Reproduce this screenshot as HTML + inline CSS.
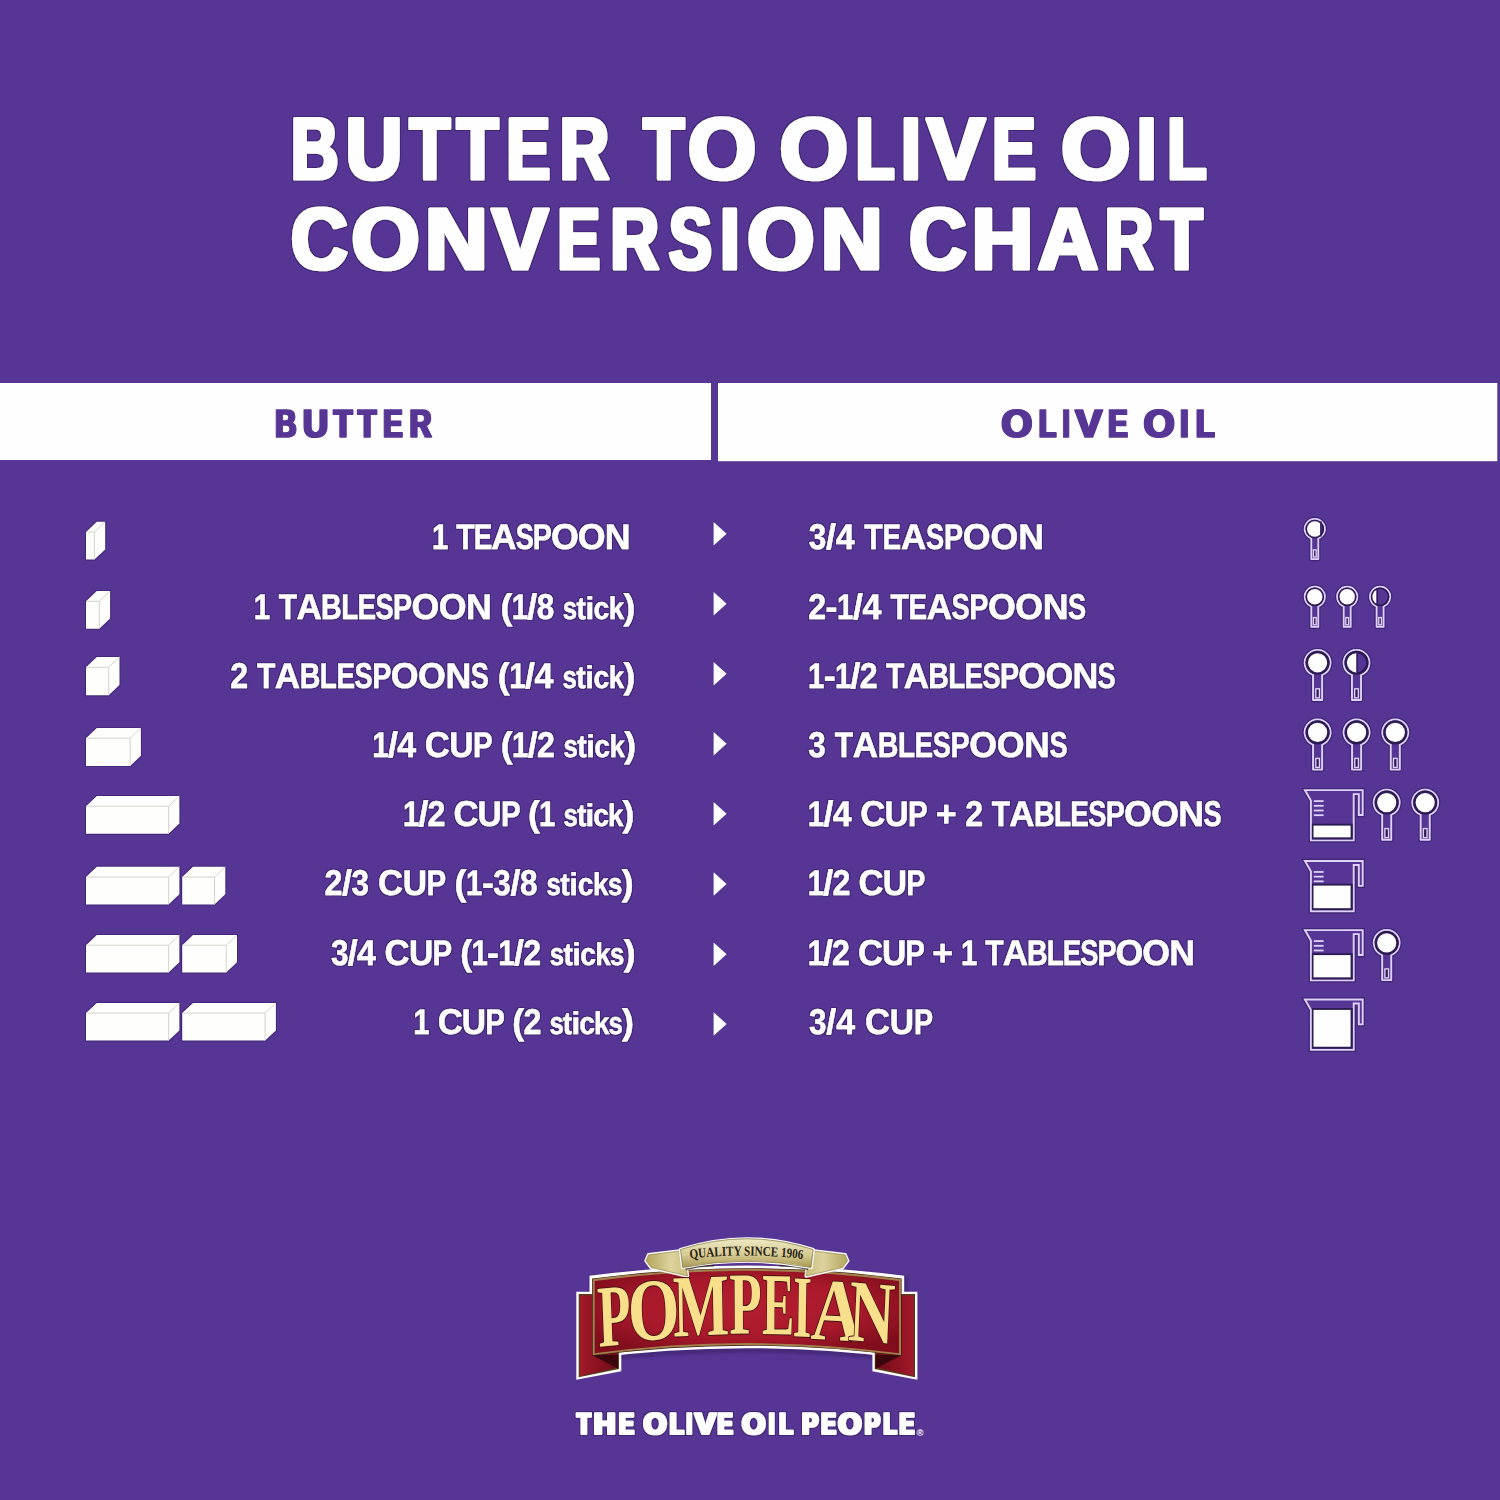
<!DOCTYPE html>
<html><head><meta charset="utf-8"><title>Butter to Olive Oil Conversion Chart</title>
<style>html,body{margin:0;padding:0;background:#573594;}svg{display:block;}</style></head>
<body><svg width="1500" height="1500" viewBox="0 0 1500 1500">
<defs><filter id="hdil45" x="-3%" y="-20%" width="106%" height="140%"><feMorphology in="SourceGraphic" operator="dilate" radius="0.45 0" result="d"/><feMorphology in="d" operator="dilate" radius="1.1" result="h"/><feFlood flood-color="#2e1b58" flood-opacity="0.60"/><feComposite in2="h" operator="in" result="hc"/><feGaussianBlur in="hc" stdDeviation="0.5" result="hb"/><feMerge><feMergeNode in="hb"/><feMergeNode in="d"/></feMerge></filter><filter id="hdil50" x="-3%" y="-20%" width="106%" height="140%"><feMorphology in="SourceGraphic" operator="dilate" radius="0.50 0" result="d"/><feMorphology in="d" operator="dilate" radius="1.1" result="h"/><feFlood flood-color="#2e1b58" flood-opacity="0.60"/><feComposite in2="h" operator="in" result="hc"/><feGaussianBlur in="hc" stdDeviation="0.5" result="hb"/><feMerge><feMergeNode in="hb"/><feMergeNode in="d"/></feMerge></filter><filter id="hdil60" x="-5%" y="-10%" width="110%" height="120%"><feMorphology operator="dilate" radius="0.60 0"/></filter><filter id="hdil100" x="-3%" y="-20%" width="106%" height="140%"><feMorphology in="SourceGraphic" operator="dilate" radius="1.00 0" result="d"/><feMorphology in="d" operator="dilate" radius="1.1" result="h"/><feFlood flood-color="#2e1b58" flood-opacity="0.60"/><feComposite in2="h" operator="in" result="hc"/><feGaussianBlur in="hc" stdDeviation="0.5" result="hb"/><feMerge><feMergeNode in="hb"/><feMergeNode in="d"/></feMerge></filter></defs>
<rect x="0" y="0" width="1500" height="1500" fill="#573594"/>
<rect x="0" y="383" width="711" height="77" fill="#fefefe"/>
<rect x="718" y="383" width="779.3" height="78.2" fill="#fefefe"/>
<text id="t1" y="179.30" font-size="87.79" font-family="Liberation Sans, sans-serif" font-weight="bold" fill="#fefefe" stroke="#fefefe" stroke-width="3.00" stroke-linejoin="round" filter="url(#hdil100)" text-rendering="geometricPrecision"><tspan x="291.11" textLength="47.37" lengthAdjust="spacingAndGlyphs">B</tspan><tspan x="345.80" textLength="56.47" lengthAdjust="spacingAndGlyphs">U</tspan><tspan x="409.76" textLength="40.14" lengthAdjust="spacingAndGlyphs">T</tspan><tspan x="457.04" textLength="41.18" lengthAdjust="spacingAndGlyphs">T</tspan><tspan x="506.42" textLength="43.63" lengthAdjust="spacingAndGlyphs">E</tspan><tspan x="559.64" textLength="49.26" lengthAdjust="spacingAndGlyphs">R</tspan> <tspan x="643.45" textLength="40.56" lengthAdjust="spacingAndGlyphs">T</tspan><tspan x="688.11" textLength="68.06" lengthAdjust="spacingAndGlyphs">O</tspan> <tspan x="779.71" textLength="68.18" lengthAdjust="spacingAndGlyphs">O</tspan><tspan x="855.76" textLength="38.68" lengthAdjust="spacingAndGlyphs">L</tspan><tspan x="901.36" textLength="19.29" lengthAdjust="spacingAndGlyphs">I</tspan><tspan x="926.91" textLength="57.89" lengthAdjust="spacingAndGlyphs">V</tspan><tspan x="992.34" textLength="43.51" lengthAdjust="spacingAndGlyphs">E</tspan> <tspan x="1061.36" textLength="69.07" lengthAdjust="spacingAndGlyphs">O</tspan><tspan x="1137.06" textLength="19.29" lengthAdjust="spacingAndGlyphs">I</tspan><tspan x="1167.42" textLength="39.04" lengthAdjust="spacingAndGlyphs">L</tspan></text>
<text id="t2" y="268.80" font-size="87.21" font-family="Liberation Sans, sans-serif" font-weight="bold" fill="#fefefe" stroke="#fefefe" stroke-width="3.00" stroke-linejoin="round" filter="url(#hdil100)" text-rendering="geometricPrecision"><tspan x="290.98" textLength="56.66" lengthAdjust="spacingAndGlyphs">C</tspan><tspan x="351.41" textLength="68.06" lengthAdjust="spacingAndGlyphs">O</tspan><tspan x="425.01" textLength="62.53" lengthAdjust="spacingAndGlyphs">N</tspan><tspan x="491.92" textLength="56.15" lengthAdjust="spacingAndGlyphs">V</tspan><tspan x="557.43" textLength="42.56" lengthAdjust="spacingAndGlyphs">E</tspan><tspan x="610.52" textLength="48.35" lengthAdjust="spacingAndGlyphs">R</tspan><tspan x="668.95" textLength="42.75" lengthAdjust="spacingAndGlyphs">S</tspan><tspan x="720.36" textLength="19.29" lengthAdjust="spacingAndGlyphs">I</tspan><tspan x="747.26" textLength="67.17" lengthAdjust="spacingAndGlyphs">O</tspan><tspan x="821.01" textLength="61.42" lengthAdjust="spacingAndGlyphs">N</tspan> <tspan x="909.26" textLength="57.11" lengthAdjust="spacingAndGlyphs">C</tspan><tspan x="971.81" textLength="61.42" lengthAdjust="spacingAndGlyphs">H</tspan><tspan x="1037.93" textLength="60.06" lengthAdjust="spacingAndGlyphs">A</tspan><tspan x="1104.72" textLength="48.35" lengthAdjust="spacingAndGlyphs">R</tspan><tspan x="1160.94" textLength="41.49" lengthAdjust="spacingAndGlyphs">T</tspan></text>
<text id="h1" y="437.25" font-size="39.39" font-family="Liberation Sans, sans-serif" font-weight="bold" fill="#573594" stroke="#573594" stroke-width="1.30" stroke-linejoin="round" filter="url(#hdil60)" text-rendering="geometricPrecision"><tspan x="275.19" textLength="21.20" lengthAdjust="spacingAndGlyphs">B</tspan><tspan x="302.96" textLength="25.11" lengthAdjust="spacingAndGlyphs">U</tspan><tspan x="333.81" textLength="18.57" lengthAdjust="spacingAndGlyphs">T</tspan><tspan x="357.91" textLength="18.26" lengthAdjust="spacingAndGlyphs">T</tspan><tspan x="383.22" textLength="19.26" lengthAdjust="spacingAndGlyphs">E</tspan><tspan x="409.74" textLength="21.73" lengthAdjust="spacingAndGlyphs">R</tspan></text>
<text id="h2" y="437.15" font-size="39.24" font-family="Liberation Sans, sans-serif" font-weight="bold" fill="#573594" stroke="#573594" stroke-width="1.30" stroke-linejoin="round" filter="url(#hdil60)" text-rendering="geometricPrecision"><tspan x="1001.43" textLength="30.67" lengthAdjust="spacingAndGlyphs">O</tspan><tspan x="1039.09" textLength="17.02" lengthAdjust="spacingAndGlyphs">L</tspan><tspan x="1062.82" textLength="6.75" lengthAdjust="spacingAndGlyphs">I</tspan><tspan x="1075.48" textLength="26.54" lengthAdjust="spacingAndGlyphs">V</tspan><tspan x="1108.32" textLength="19.26" lengthAdjust="spacingAndGlyphs">E</tspan> <tspan x="1143.83" textLength="30.79" lengthAdjust="spacingAndGlyphs">O</tspan><tspan x="1180.30" textLength="8.10" lengthAdjust="spacingAndGlyphs">I</tspan><tspan x="1195.93" textLength="18.45" lengthAdjust="spacingAndGlyphs">L</tspan></text>
<text id="l0" y="549.30" font-size="35.76" font-family="Liberation Sans, sans-serif" font-weight="bold" fill="#fefefe" stroke="#fefefe" stroke-width="0.40" stroke-linejoin="round" filter="url(#hdil45)" text-rendering="geometricPrecision"><tspan x="432.00" textLength="16.31" lengthAdjust="spacingAndGlyphs">1</tspan> <tspan x="456.31" textLength="18.35" lengthAdjust="spacingAndGlyphs">T</tspan><tspan x="473.69" textLength="18.60" lengthAdjust="spacingAndGlyphs">E</tspan><tspan x="491.33" textLength="25.31" lengthAdjust="spacingAndGlyphs">A</tspan><tspan x="515.67" textLength="18.13" lengthAdjust="spacingAndGlyphs">S</tspan><tspan x="532.83" textLength="19.08" lengthAdjust="spacingAndGlyphs">P</tspan><tspan x="550.94" textLength="27.81" lengthAdjust="spacingAndGlyphs">O</tspan><tspan x="577.79" textLength="27.81" lengthAdjust="spacingAndGlyphs">O</tspan><tspan x="604.64" textLength="25.82" lengthAdjust="spacingAndGlyphs">N</tspan></text>
<text id="l1" y="618.50" font-size="35.76" font-family="Liberation Sans, sans-serif" font-weight="bold" fill="#fefefe" stroke="#fefefe" stroke-width="0.40" stroke-linejoin="round" filter="url(#hdil45)" text-rendering="geometricPrecision"><tspan x="253.70" textLength="16.31" lengthAdjust="spacingAndGlyphs">1</tspan> <tspan x="278.70" textLength="18.35" lengthAdjust="spacingAndGlyphs">T</tspan><tspan x="296.42" textLength="25.31" lengthAdjust="spacingAndGlyphs">A</tspan><tspan x="321.11" textLength="20.66" lengthAdjust="spacingAndGlyphs">B</tspan><tspan x="341.14" textLength="17.04" lengthAdjust="spacingAndGlyphs">L</tspan><tspan x="357.56" textLength="18.60" lengthAdjust="spacingAndGlyphs">E</tspan><tspan x="375.54" textLength="18.13" lengthAdjust="spacingAndGlyphs">S</tspan><tspan x="393.04" textLength="19.08" lengthAdjust="spacingAndGlyphs">P</tspan><tspan x="411.50" textLength="27.81" lengthAdjust="spacingAndGlyphs">O</tspan><tspan x="438.69" textLength="27.81" lengthAdjust="spacingAndGlyphs">O</tspan><tspan x="465.88" textLength="25.82" lengthAdjust="spacingAndGlyphs">N</tspan> <tspan x="500.39" textLength="11.91" lengthAdjust="spacingAndGlyphs">(</tspan><tspan x="511.68" textLength="16.31" lengthAdjust="spacingAndGlyphs">1</tspan><tspan x="527.36" textLength="9.93" lengthAdjust="spacingAndGlyphs">/</tspan><tspan x="536.67" textLength="17.50" lengthAdjust="spacingAndGlyphs">8</tspan> <tspan x="562.86" textLength="14.35" lengthAdjust="spacingAndGlyphs" font-size="31.47">s</tspan><tspan x="576.59" textLength="9.43" lengthAdjust="spacingAndGlyphs" font-size="31.47">t</tspan><tspan x="585.40" textLength="8.74" lengthAdjust="spacingAndGlyphs" font-size="31.47">i</tspan><tspan x="593.52" textLength="15.75" lengthAdjust="spacingAndGlyphs" font-size="31.47">c</tspan><tspan x="608.65" textLength="15.40" lengthAdjust="spacingAndGlyphs" font-size="31.47">k</tspan><tspan x="623.42" textLength="11.91" lengthAdjust="spacingAndGlyphs">)</tspan></text>
<text id="l2" y="687.70" font-size="35.76" font-family="Liberation Sans, sans-serif" font-weight="bold" fill="#fefefe" stroke="#fefefe" stroke-width="0.40" stroke-linejoin="round" filter="url(#hdil45)" text-rendering="geometricPrecision"><tspan x="230.13" textLength="17.90" lengthAdjust="spacingAndGlyphs">2</tspan> <tspan x="257.00" textLength="18.35" lengthAdjust="spacingAndGlyphs">T</tspan><tspan x="274.86" textLength="25.31" lengthAdjust="spacingAndGlyphs">A</tspan><tspan x="299.68" textLength="20.66" lengthAdjust="spacingAndGlyphs">B</tspan><tspan x="319.85" textLength="17.04" lengthAdjust="spacingAndGlyphs">L</tspan><tspan x="336.40" textLength="18.60" lengthAdjust="spacingAndGlyphs">E</tspan><tspan x="354.52" textLength="18.13" lengthAdjust="spacingAndGlyphs">S</tspan><tspan x="372.16" textLength="19.08" lengthAdjust="spacingAndGlyphs">P</tspan><tspan x="390.75" textLength="27.81" lengthAdjust="spacingAndGlyphs">O</tspan><tspan x="418.08" textLength="27.81" lengthAdjust="spacingAndGlyphs">O</tspan><tspan x="445.41" textLength="25.82" lengthAdjust="spacingAndGlyphs">N</tspan><tspan x="470.74" textLength="18.13" lengthAdjust="spacingAndGlyphs">S</tspan> <tspan x="497.83" textLength="11.91" lengthAdjust="spacingAndGlyphs">(</tspan><tspan x="509.25" textLength="16.31" lengthAdjust="spacingAndGlyphs">1</tspan><tspan x="525.07" textLength="9.93" lengthAdjust="spacingAndGlyphs">/</tspan><tspan x="534.52" textLength="18.89" lengthAdjust="spacingAndGlyphs">4</tspan> <tspan x="562.38" textLength="14.35" lengthAdjust="spacingAndGlyphs" font-size="31.47">s</tspan><tspan x="576.24" textLength="9.43" lengthAdjust="spacingAndGlyphs" font-size="31.47">t</tspan><tspan x="585.19" textLength="8.74" lengthAdjust="spacingAndGlyphs" font-size="31.47">i</tspan><tspan x="593.45" textLength="15.75" lengthAdjust="spacingAndGlyphs" font-size="31.47">c</tspan><tspan x="608.71" textLength="15.40" lengthAdjust="spacingAndGlyphs" font-size="31.47">k</tspan><tspan x="623.62" textLength="11.91" lengthAdjust="spacingAndGlyphs">)</tspan></text>
<text id="l3" y="756.90" font-size="35.76" font-family="Liberation Sans, sans-serif" font-weight="bold" fill="#fefefe" stroke="#fefefe" stroke-width="0.40" stroke-linejoin="round" filter="url(#hdil45)" text-rendering="geometricPrecision"><tspan x="372.20" textLength="16.31" lengthAdjust="spacingAndGlyphs">1</tspan><tspan x="387.90" textLength="9.93" lengthAdjust="spacingAndGlyphs">/</tspan><tspan x="397.22" textLength="18.89" lengthAdjust="spacingAndGlyphs">4</tspan> <tspan x="424.82" textLength="25.05" lengthAdjust="spacingAndGlyphs">C</tspan><tspan x="449.25" textLength="24.27" lengthAdjust="spacingAndGlyphs">U</tspan><tspan x="472.91" textLength="19.08" lengthAdjust="spacingAndGlyphs">P</tspan> <tspan x="500.70" textLength="11.91" lengthAdjust="spacingAndGlyphs">(</tspan><tspan x="512.00" textLength="16.31" lengthAdjust="spacingAndGlyphs">1</tspan><tspan x="527.69" textLength="9.93" lengthAdjust="spacingAndGlyphs">/</tspan><tspan x="537.01" textLength="17.90" lengthAdjust="spacingAndGlyphs">2</tspan> <tspan x="563.62" textLength="14.35" lengthAdjust="spacingAndGlyphs" font-size="31.47">s</tspan><tspan x="577.35" textLength="9.43" lengthAdjust="spacingAndGlyphs" font-size="31.47">t</tspan><tspan x="586.17" textLength="8.74" lengthAdjust="spacingAndGlyphs" font-size="31.47">i</tspan><tspan x="594.30" textLength="15.75" lengthAdjust="spacingAndGlyphs" font-size="31.47">c</tspan><tspan x="609.44" textLength="15.40" lengthAdjust="spacingAndGlyphs" font-size="31.47">k</tspan><tspan x="624.22" textLength="11.91" lengthAdjust="spacingAndGlyphs">)</tspan></text>
<text id="l4" y="826.10" font-size="35.76" font-family="Liberation Sans, sans-serif" font-weight="bold" fill="#fefefe" stroke="#fefefe" stroke-width="0.40" stroke-linejoin="round" filter="url(#hdil45)" text-rendering="geometricPrecision"><tspan x="403.00" textLength="16.31" lengthAdjust="spacingAndGlyphs">1</tspan><tspan x="418.39" textLength="9.93" lengthAdjust="spacingAndGlyphs">/</tspan><tspan x="427.41" textLength="17.90" lengthAdjust="spacingAndGlyphs">2</tspan> <tspan x="453.40" textLength="25.05" lengthAdjust="spacingAndGlyphs">C</tspan><tspan x="477.53" textLength="24.27" lengthAdjust="spacingAndGlyphs">U</tspan><tspan x="500.88" textLength="19.08" lengthAdjust="spacingAndGlyphs">P</tspan> <tspan x="528.06" textLength="11.91" lengthAdjust="spacingAndGlyphs">(</tspan><tspan x="539.04" textLength="16.31" lengthAdjust="spacingAndGlyphs">1</tspan> <tspan x="563.45" textLength="14.35" lengthAdjust="spacingAndGlyphs" font-size="31.47">s</tspan><tspan x="576.88" textLength="9.43" lengthAdjust="spacingAndGlyphs" font-size="31.47">t</tspan><tspan x="585.39" textLength="8.74" lengthAdjust="spacingAndGlyphs" font-size="31.47">i</tspan><tspan x="593.21" textLength="15.75" lengthAdjust="spacingAndGlyphs" font-size="31.47">c</tspan><tspan x="608.04" textLength="15.40" lengthAdjust="spacingAndGlyphs" font-size="31.47">k</tspan><tspan x="622.52" textLength="11.91" lengthAdjust="spacingAndGlyphs">)</tspan></text>
<text id="l5" y="895.30" font-size="35.76" font-family="Liberation Sans, sans-serif" font-weight="bold" fill="#fefefe" stroke="#fefefe" stroke-width="0.40" stroke-linejoin="round" filter="url(#hdil45)" text-rendering="geometricPrecision"><tspan x="324.53" textLength="17.90" lengthAdjust="spacingAndGlyphs">2</tspan><tspan x="341.99" textLength="9.93" lengthAdjust="spacingAndGlyphs">/</tspan><tspan x="351.48" textLength="17.50" lengthAdjust="spacingAndGlyphs">3</tspan> <tspan x="378.02" textLength="25.05" lengthAdjust="spacingAndGlyphs">C</tspan><tspan x="402.63" textLength="24.27" lengthAdjust="spacingAndGlyphs">U</tspan><tspan x="426.46" textLength="19.08" lengthAdjust="spacingAndGlyphs">P</tspan> <tspan x="454.58" textLength="11.91" lengthAdjust="spacingAndGlyphs">(</tspan><tspan x="466.05" textLength="16.31" lengthAdjust="spacingAndGlyphs">1</tspan><tspan x="481.91" textLength="11.91" lengthAdjust="spacingAndGlyphs">-</tspan><tspan x="493.37" textLength="17.50" lengthAdjust="spacingAndGlyphs">3</tspan><tspan x="510.43" textLength="9.93" lengthAdjust="spacingAndGlyphs">/</tspan><tspan x="519.92" textLength="17.50" lengthAdjust="spacingAndGlyphs">8</tspan> <tspan x="546.47" textLength="14.35" lengthAdjust="spacingAndGlyphs" font-size="31.47">s</tspan><tspan x="560.37" textLength="9.43" lengthAdjust="spacingAndGlyphs" font-size="31.47">t</tspan><tspan x="569.36" textLength="8.74" lengthAdjust="spacingAndGlyphs" font-size="31.47">i</tspan><tspan x="577.66" textLength="15.75" lengthAdjust="spacingAndGlyphs" font-size="31.47">c</tspan><tspan x="592.96" textLength="15.40" lengthAdjust="spacingAndGlyphs" font-size="31.47">k</tspan><tspan x="607.92" textLength="14.35" lengthAdjust="spacingAndGlyphs" font-size="31.47">s</tspan><tspan x="621.82" textLength="11.91" lengthAdjust="spacingAndGlyphs">)</tspan></text>
<text id="l6" y="964.50" font-size="35.76" font-family="Liberation Sans, sans-serif" font-weight="bold" fill="#fefefe" stroke="#fefefe" stroke-width="0.40" stroke-linejoin="round" filter="url(#hdil45)" text-rendering="geometricPrecision"><tspan x="331.03" textLength="17.50" lengthAdjust="spacingAndGlyphs">3</tspan><tspan x="347.86" textLength="9.93" lengthAdjust="spacingAndGlyphs">/</tspan><tspan x="357.12" textLength="18.89" lengthAdjust="spacingAndGlyphs">4</tspan> <tspan x="384.60" textLength="25.05" lengthAdjust="spacingAndGlyphs">C</tspan><tspan x="408.97" textLength="24.27" lengthAdjust="spacingAndGlyphs">U</tspan><tspan x="432.58" textLength="19.08" lengthAdjust="spacingAndGlyphs">P</tspan> <tspan x="460.25" textLength="11.91" lengthAdjust="spacingAndGlyphs">(</tspan><tspan x="471.48" textLength="16.31" lengthAdjust="spacingAndGlyphs">1</tspan><tspan x="487.11" textLength="11.91" lengthAdjust="spacingAndGlyphs">-</tspan><tspan x="498.35" textLength="16.31" lengthAdjust="spacingAndGlyphs">1</tspan><tspan x="513.98" textLength="9.93" lengthAdjust="spacingAndGlyphs">/</tspan><tspan x="523.25" textLength="17.90" lengthAdjust="spacingAndGlyphs">2</tspan> <tspan x="549.73" textLength="14.35" lengthAdjust="spacingAndGlyphs" font-size="31.47">s</tspan><tspan x="563.41" textLength="9.43" lengthAdjust="spacingAndGlyphs" font-size="31.47">t</tspan><tspan x="572.17" textLength="8.74" lengthAdjust="spacingAndGlyphs" font-size="31.47">i</tspan><tspan x="580.24" textLength="15.75" lengthAdjust="spacingAndGlyphs" font-size="31.47">c</tspan><tspan x="595.32" textLength="15.40" lengthAdjust="spacingAndGlyphs" font-size="31.47">k</tspan><tspan x="610.05" textLength="14.35" lengthAdjust="spacingAndGlyphs" font-size="31.47">s</tspan><tspan x="623.72" textLength="11.91" lengthAdjust="spacingAndGlyphs">)</tspan></text>
<text id="l7" y="1033.70" font-size="35.76" font-family="Liberation Sans, sans-serif" font-weight="bold" fill="#fefefe" stroke="#fefefe" stroke-width="0.40" stroke-linejoin="round" filter="url(#hdil45)" text-rendering="geometricPrecision"><tspan x="413.20" textLength="16.31" lengthAdjust="spacingAndGlyphs">1</tspan> <tspan x="437.64" textLength="25.05" lengthAdjust="spacingAndGlyphs">C</tspan><tspan x="461.79" textLength="24.27" lengthAdjust="spacingAndGlyphs">U</tspan><tspan x="485.16" textLength="19.08" lengthAdjust="spacingAndGlyphs">P</tspan> <tspan x="512.37" textLength="11.91" lengthAdjust="spacingAndGlyphs">(</tspan><tspan x="523.38" textLength="17.90" lengthAdjust="spacingAndGlyphs">2</tspan> <tspan x="549.41" textLength="14.35" lengthAdjust="spacingAndGlyphs" font-size="31.47">s</tspan><tspan x="562.86" textLength="9.43" lengthAdjust="spacingAndGlyphs" font-size="31.47">t</tspan><tspan x="571.39" textLength="8.74" lengthAdjust="spacingAndGlyphs" font-size="31.47">i</tspan><tspan x="579.23" textLength="15.75" lengthAdjust="spacingAndGlyphs" font-size="31.47">c</tspan><tspan x="594.08" textLength="15.40" lengthAdjust="spacingAndGlyphs" font-size="31.47">k</tspan><tspan x="608.58" textLength="14.35" lengthAdjust="spacingAndGlyphs" font-size="31.47">s</tspan><tspan x="622.02" textLength="11.91" lengthAdjust="spacingAndGlyphs">)</tspan></text>
<text id="r0" y="549.30" font-size="35.76" font-family="Liberation Sans, sans-serif" font-weight="bold" fill="#fefefe" stroke="#fefefe" stroke-width="0.40" stroke-linejoin="round" filter="url(#hdil45)" text-rendering="geometricPrecision"><tspan x="808.73" textLength="17.50" lengthAdjust="spacingAndGlyphs">3</tspan><tspan x="826.05" textLength="9.93" lengthAdjust="spacingAndGlyphs">/</tspan><tspan x="835.81" textLength="18.89" lengthAdjust="spacingAndGlyphs">4</tspan> <tspan x="864.28" textLength="18.35" lengthAdjust="spacingAndGlyphs">T</tspan><tspan x="882.46" textLength="18.60" lengthAdjust="spacingAndGlyphs">E</tspan><tspan x="900.88" textLength="25.31" lengthAdjust="spacingAndGlyphs">A</tspan><tspan x="926.01" textLength="18.13" lengthAdjust="spacingAndGlyphs">S</tspan><tspan x="943.96" textLength="19.08" lengthAdjust="spacingAndGlyphs">P</tspan><tspan x="962.86" textLength="27.81" lengthAdjust="spacingAndGlyphs">O</tspan><tspan x="990.50" textLength="27.81" lengthAdjust="spacingAndGlyphs">O</tspan><tspan x="1018.14" textLength="25.82" lengthAdjust="spacingAndGlyphs">N</tspan></text>
<text id="r1" y="618.50" font-size="35.76" font-family="Liberation Sans, sans-serif" font-weight="bold" fill="#fefefe" stroke="#fefefe" stroke-width="0.40" stroke-linejoin="round" filter="url(#hdil45)" text-rendering="geometricPrecision"><tspan x="808.13" textLength="17.90" lengthAdjust="spacingAndGlyphs">2</tspan><tspan x="825.62" textLength="11.91" lengthAdjust="spacingAndGlyphs">-</tspan><tspan x="837.11" textLength="16.31" lengthAdjust="spacingAndGlyphs">1</tspan><tspan x="853.00" textLength="9.93" lengthAdjust="spacingAndGlyphs">/</tspan><tspan x="862.52" textLength="18.89" lengthAdjust="spacingAndGlyphs">4</tspan> <tspan x="890.51" textLength="18.35" lengthAdjust="spacingAndGlyphs">T</tspan><tspan x="908.44" textLength="18.60" lengthAdjust="spacingAndGlyphs">E</tspan><tspan x="926.63" textLength="25.31" lengthAdjust="spacingAndGlyphs">A</tspan><tspan x="951.52" textLength="18.13" lengthAdjust="spacingAndGlyphs">S</tspan><tspan x="969.22" textLength="19.08" lengthAdjust="spacingAndGlyphs">P</tspan><tspan x="987.89" textLength="27.81" lengthAdjust="spacingAndGlyphs">O</tspan><tspan x="1015.28" textLength="27.81" lengthAdjust="spacingAndGlyphs">O</tspan><tspan x="1042.68" textLength="25.82" lengthAdjust="spacingAndGlyphs">N</tspan><tspan x="1068.09" textLength="18.13" lengthAdjust="spacingAndGlyphs">S</tspan></text>
<text id="r2" y="687.70" font-size="35.76" font-family="Liberation Sans, sans-serif" font-weight="bold" fill="#fefefe" stroke="#fefefe" stroke-width="0.40" stroke-linejoin="round" filter="url(#hdil45)" text-rendering="geometricPrecision"><tspan x="808.10" textLength="16.31" lengthAdjust="spacingAndGlyphs">1</tspan><tspan x="823.70" textLength="11.91" lengthAdjust="spacingAndGlyphs">-</tspan><tspan x="834.89" textLength="16.31" lengthAdjust="spacingAndGlyphs">1</tspan><tspan x="850.49" textLength="9.93" lengthAdjust="spacingAndGlyphs">/</tspan><tspan x="859.71" textLength="17.90" lengthAdjust="spacingAndGlyphs">2</tspan> <tspan x="886.11" textLength="18.35" lengthAdjust="spacingAndGlyphs">T</tspan><tspan x="903.75" textLength="25.31" lengthAdjust="spacingAndGlyphs">A</tspan><tspan x="928.34" textLength="20.66" lengthAdjust="spacingAndGlyphs">B</tspan><tspan x="948.29" textLength="17.04" lengthAdjust="spacingAndGlyphs">L</tspan><tspan x="964.61" textLength="18.60" lengthAdjust="spacingAndGlyphs">E</tspan><tspan x="982.50" textLength="18.13" lengthAdjust="spacingAndGlyphs">S</tspan><tspan x="999.91" textLength="19.08" lengthAdjust="spacingAndGlyphs">P</tspan><tspan x="1018.28" textLength="27.81" lengthAdjust="spacingAndGlyphs">O</tspan><tspan x="1045.38" textLength="27.81" lengthAdjust="spacingAndGlyphs">O</tspan><tspan x="1072.48" textLength="25.82" lengthAdjust="spacingAndGlyphs">N</tspan><tspan x="1097.59" textLength="18.13" lengthAdjust="spacingAndGlyphs">S</tspan></text>
<text id="r3" y="756.90" font-size="35.76" font-family="Liberation Sans, sans-serif" font-weight="bold" fill="#fefefe" stroke="#fefefe" stroke-width="0.40" stroke-linejoin="round" filter="url(#hdil45)" text-rendering="geometricPrecision"><tspan x="808.13" textLength="17.50" lengthAdjust="spacingAndGlyphs">3</tspan> <tspan x="834.78" textLength="18.35" lengthAdjust="spacingAndGlyphs">T</tspan><tspan x="852.74" textLength="25.31" lengthAdjust="spacingAndGlyphs">A</tspan><tspan x="877.66" textLength="20.66" lengthAdjust="spacingAndGlyphs">B</tspan><tspan x="897.92" textLength="17.04" lengthAdjust="spacingAndGlyphs">L</tspan><tspan x="914.57" textLength="18.60" lengthAdjust="spacingAndGlyphs">E</tspan><tspan x="932.78" textLength="18.13" lengthAdjust="spacingAndGlyphs">S</tspan><tspan x="950.52" textLength="19.08" lengthAdjust="spacingAndGlyphs">P</tspan><tspan x="969.21" textLength="27.81" lengthAdjust="spacingAndGlyphs">O</tspan><tspan x="996.63" textLength="27.81" lengthAdjust="spacingAndGlyphs">O</tspan><tspan x="1024.05" textLength="25.82" lengthAdjust="spacingAndGlyphs">N</tspan><tspan x="1049.49" textLength="18.13" lengthAdjust="spacingAndGlyphs">S</tspan></text>
<text id="r4" y="826.10" font-size="35.76" font-family="Liberation Sans, sans-serif" font-weight="bold" fill="#fefefe" stroke="#fefefe" stroke-width="0.40" stroke-linejoin="round" filter="url(#hdil45)" text-rendering="geometricPrecision"><tspan x="807.80" textLength="16.31" lengthAdjust="spacingAndGlyphs">1</tspan><tspan x="823.43" textLength="9.93" lengthAdjust="spacingAndGlyphs">/</tspan><tspan x="832.68" textLength="18.89" lengthAdjust="spacingAndGlyphs">4</tspan> <tspan x="860.15" textLength="25.05" lengthAdjust="spacingAndGlyphs">C</tspan><tspan x="884.52" textLength="24.27" lengthAdjust="spacingAndGlyphs">U</tspan><tspan x="908.11" textLength="19.08" lengthAdjust="spacingAndGlyphs">P</tspan> <tspan x="935.76" textLength="20.88" lengthAdjust="spacingAndGlyphs">+</tspan> <tspan x="965.22" textLength="17.90" lengthAdjust="spacingAndGlyphs">2</tspan> <tspan x="991.69" textLength="18.35" lengthAdjust="spacingAndGlyphs">T</tspan><tspan x="1009.36" textLength="25.31" lengthAdjust="spacingAndGlyphs">A</tspan><tspan x="1033.98" textLength="20.66" lengthAdjust="spacingAndGlyphs">B</tspan><tspan x="1053.96" textLength="17.04" lengthAdjust="spacingAndGlyphs">L</tspan><tspan x="1070.31" textLength="18.60" lengthAdjust="spacingAndGlyphs">E</tspan><tspan x="1088.24" textLength="18.13" lengthAdjust="spacingAndGlyphs">S</tspan><tspan x="1105.68" textLength="19.08" lengthAdjust="spacingAndGlyphs">P</tspan><tspan x="1124.08" textLength="27.81" lengthAdjust="spacingAndGlyphs">O</tspan><tspan x="1151.21" textLength="27.81" lengthAdjust="spacingAndGlyphs">O</tspan><tspan x="1178.34" textLength="25.82" lengthAdjust="spacingAndGlyphs">N</tspan><tspan x="1203.49" textLength="18.13" lengthAdjust="spacingAndGlyphs">S</tspan></text>
<text id="r5" y="895.30" font-size="35.76" font-family="Liberation Sans, sans-serif" font-weight="bold" fill="#fefefe" stroke="#fefefe" stroke-width="0.40" stroke-linejoin="round" filter="url(#hdil45)" text-rendering="geometricPrecision"><tspan x="807.80" textLength="16.31" lengthAdjust="spacingAndGlyphs">1</tspan><tspan x="823.29" textLength="9.93" lengthAdjust="spacingAndGlyphs">/</tspan><tspan x="832.40" textLength="17.90" lengthAdjust="spacingAndGlyphs">2</tspan> <tspan x="858.58" textLength="25.05" lengthAdjust="spacingAndGlyphs">C</tspan><tspan x="882.80" textLength="24.27" lengthAdjust="spacingAndGlyphs">U</tspan><tspan x="906.25" textLength="19.08" lengthAdjust="spacingAndGlyphs">P</tspan></text>
<text id="r6" y="964.50" font-size="35.76" font-family="Liberation Sans, sans-serif" font-weight="bold" fill="#fefefe" stroke="#fefefe" stroke-width="0.40" stroke-linejoin="round" filter="url(#hdil45)" text-rendering="geometricPrecision"><tspan x="807.80" textLength="16.31" lengthAdjust="spacingAndGlyphs">1</tspan><tspan x="823.11" textLength="9.93" lengthAdjust="spacingAndGlyphs">/</tspan><tspan x="832.05" textLength="17.90" lengthAdjust="spacingAndGlyphs">2</tspan> <tspan x="857.89" textLength="25.05" lengthAdjust="spacingAndGlyphs">C</tspan><tspan x="881.95" textLength="24.27" lengthAdjust="spacingAndGlyphs">U</tspan><tspan x="905.22" textLength="19.08" lengthAdjust="spacingAndGlyphs">P</tspan> <tspan x="932.25" textLength="20.88" lengthAdjust="spacingAndGlyphs">+</tspan> <tspan x="961.07" textLength="16.31" lengthAdjust="spacingAndGlyphs">1</tspan> <tspan x="985.32" textLength="18.35" lengthAdjust="spacingAndGlyphs">T</tspan><tspan x="1002.67" textLength="25.31" lengthAdjust="spacingAndGlyphs">A</tspan><tspan x="1026.98" textLength="20.66" lengthAdjust="spacingAndGlyphs">B</tspan><tspan x="1046.64" textLength="17.04" lengthAdjust="spacingAndGlyphs">L</tspan><tspan x="1062.68" textLength="18.60" lengthAdjust="spacingAndGlyphs">E</tspan><tspan x="1080.29" textLength="18.13" lengthAdjust="spacingAndGlyphs">S</tspan><tspan x="1097.42" textLength="19.08" lengthAdjust="spacingAndGlyphs">P</tspan><tspan x="1115.50" textLength="27.81" lengthAdjust="spacingAndGlyphs">O</tspan><tspan x="1142.32" textLength="27.81" lengthAdjust="spacingAndGlyphs">O</tspan><tspan x="1169.14" textLength="25.82" lengthAdjust="spacingAndGlyphs">N</tspan></text>
<text id="r7" y="1033.70" font-size="35.76" font-family="Liberation Sans, sans-serif" font-weight="bold" fill="#fefefe" stroke="#fefefe" stroke-width="0.40" stroke-linejoin="round" filter="url(#hdil45)" text-rendering="geometricPrecision"><tspan x="808.93" textLength="17.50" lengthAdjust="spacingAndGlyphs">3</tspan><tspan x="826.35" textLength="9.93" lengthAdjust="spacingAndGlyphs">/</tspan><tspan x="836.21" textLength="18.89" lengthAdjust="spacingAndGlyphs">4</tspan> <tspan x="864.88" textLength="25.05" lengthAdjust="spacingAndGlyphs">C</tspan><tspan x="889.85" textLength="24.27" lengthAdjust="spacingAndGlyphs">U</tspan><tspan x="914.05" textLength="19.08" lengthAdjust="spacingAndGlyphs">P</tspan></text>
<text id="tag" y="1433.60" font-size="30.09" font-family="Liberation Sans, sans-serif" font-weight="bold" fill="#fefefe" stroke="#fefefe" stroke-width="2.00" stroke-linejoin="round" filter="url(#hdil50)" text-rendering="geometricPrecision"><tspan x="577.36" textLength="13.28" lengthAdjust="spacingAndGlyphs">T</tspan><tspan x="594.03" textLength="21.25" lengthAdjust="spacingAndGlyphs">H</tspan><tspan x="619.35" textLength="14.50" lengthAdjust="spacingAndGlyphs">E</tspan> <tspan x="643.70" textLength="22.73" lengthAdjust="spacingAndGlyphs">O</tspan><tspan x="670.11" textLength="13.57" lengthAdjust="spacingAndGlyphs">L</tspan><tspan x="686.69" textLength="5.01" lengthAdjust="spacingAndGlyphs">I</tspan><tspan x="695.19" textLength="20.32" lengthAdjust="spacingAndGlyphs">V</tspan><tspan x="717.72" textLength="14.74" lengthAdjust="spacingAndGlyphs">E</tspan> <tspan x="742.19" textLength="22.95" lengthAdjust="spacingAndGlyphs">O</tspan><tspan x="769.19" textLength="5.01" lengthAdjust="spacingAndGlyphs">I</tspan><tspan x="779.39" textLength="12.86" lengthAdjust="spacingAndGlyphs">L</tspan> <tspan x="802.20" textLength="15.91" lengthAdjust="spacingAndGlyphs">P</tspan><tspan x="821.58" textLength="14.15" lengthAdjust="spacingAndGlyphs">E</tspan><tspan x="838.60" textLength="22.84" lengthAdjust="spacingAndGlyphs">O</tspan><tspan x="864.91" textLength="14.85" lengthAdjust="spacingAndGlyphs">P</tspan><tspan x="883.71" textLength="12.74" lengthAdjust="spacingAndGlyphs">L</tspan><tspan x="899.76" textLength="14.39" lengthAdjust="spacingAndGlyphs">E</tspan></text>
<text x="916.6" y="1435.6" font-size="9.5" font-family="Liberation Sans, sans-serif" font-weight="bold" fill="#fefefe">&#174;</text>
<path d="M86.00 532.00 L96.80 521.80 L105.20 521.80 L105.20 549.40 L94.40 559.60 L86.00 559.60 Z" fill="#fefefc" stroke="#432879" stroke-width="2.2" stroke-linejoin="round"/>
<path d="M86.00 532.00 L96.80 521.80 L105.20 521.80 L105.20 549.40 L94.40 559.60 L86.00 559.60 Z" fill="#fefefc"/>
<path d="M86.00 532.00 L94.40 532.00 L105.20 521.80 M94.40 532.00 L94.40 559.60" fill="none" stroke="#cfcfc6" stroke-width="0.9"/>
<path d="M86.00 601.30 L96.80 591.10 L110.10 591.10 L110.10 618.50 L99.30 628.70 L86.00 628.70 Z" fill="#fefefc" stroke="#432879" stroke-width="2.2" stroke-linejoin="round"/>
<path d="M86.00 601.30 L96.80 591.10 L110.10 591.10 L110.10 618.50 L99.30 628.70 L86.00 628.70 Z" fill="#fefefc"/>
<path d="M86.00 601.30 L99.30 601.30 L110.10 591.10 M99.30 601.30 L99.30 628.70" fill="none" stroke="#cfcfc6" stroke-width="0.9"/>
<path d="M86.00 667.30 L96.80 657.10 L119.50 657.10 L119.50 685.10 L108.70 695.30 L86.00 695.30 Z" fill="#fefefc" stroke="#432879" stroke-width="2.2" stroke-linejoin="round"/>
<path d="M86.00 667.30 L96.80 657.10 L119.50 657.10 L119.50 685.10 L108.70 695.30 L86.00 695.30 Z" fill="#fefefc"/>
<path d="M86.00 667.30 L108.70 667.30 L119.50 657.10 M108.70 667.30 L108.70 695.30" fill="none" stroke="#cfcfc6" stroke-width="0.9"/>
<path d="M86.00 738.20 L96.80 728.00 L140.90 728.00 L140.90 755.80 L130.10 766.00 L86.00 766.00 Z" fill="#fefefc" stroke="#432879" stroke-width="2.2" stroke-linejoin="round"/>
<path d="M86.00 738.20 L96.80 728.00 L140.90 728.00 L140.90 755.80 L130.10 766.00 L86.00 766.00 Z" fill="#fefefc"/>
<path d="M86.00 738.20 L130.10 738.20 L140.90 728.00 M130.10 738.20 L130.10 766.00" fill="none" stroke="#cfcfc6" stroke-width="0.9"/>
<path d="M86.00 806.20 L96.80 796.00 L179.40 796.00 L179.40 823.60 L168.60 833.80 L86.00 833.80 Z" fill="#fefefc" stroke="#432879" stroke-width="2.2" stroke-linejoin="round"/>
<path d="M86.00 806.20 L96.80 796.00 L179.40 796.00 L179.40 823.60 L168.60 833.80 L86.00 833.80 Z" fill="#fefefc"/>
<path d="M86.00 806.20 L168.60 806.20 L179.40 796.00 M168.60 806.20 L168.60 833.80" fill="none" stroke="#cfcfc6" stroke-width="0.9"/>
<path d="M86.00 877.00 L96.80 866.80 L179.40 866.80 L179.40 894.30 L168.60 904.50 L86.00 904.50 Z" fill="#fefefc" stroke="#432879" stroke-width="2.2" stroke-linejoin="round"/>
<path d="M86.00 877.00 L96.80 866.80 L179.40 866.80 L179.40 894.30 L168.60 904.50 L86.00 904.50 Z" fill="#fefefc"/>
<path d="M86.00 877.00 L168.60 877.00 L179.40 866.80 M168.60 877.00 L168.60 904.50" fill="none" stroke="#cfcfc6" stroke-width="0.9"/>
<path d="M182.20 877.00 L193.00 866.80 L225.30 866.80 L225.30 894.30 L214.50 904.50 L182.20 904.50 Z" fill="#fefefc" stroke="#432879" stroke-width="2.2" stroke-linejoin="round"/>
<path d="M182.20 877.00 L193.00 866.80 L225.30 866.80 L225.30 894.30 L214.50 904.50 L182.20 904.50 Z" fill="#fefefc"/>
<path d="M182.20 877.00 L214.50 877.00 L225.30 866.80 M214.50 877.00 L214.50 904.50" fill="none" stroke="#cfcfc6" stroke-width="0.9"/>
<path d="M86.00 945.20 L96.80 935.00 L179.40 935.00 L179.40 962.30 L168.60 972.50 L86.00 972.50 Z" fill="#fefefc" stroke="#432879" stroke-width="2.2" stroke-linejoin="round"/>
<path d="M86.00 945.20 L96.80 935.00 L179.40 935.00 L179.40 962.30 L168.60 972.50 L86.00 972.50 Z" fill="#fefefc"/>
<path d="M86.00 945.20 L168.60 945.20 L179.40 935.00 M168.60 945.20 L168.60 972.50" fill="none" stroke="#cfcfc6" stroke-width="0.9"/>
<path d="M182.20 945.20 L193.00 935.00 L237.00 935.00 L237.00 962.30 L226.20 972.50 L182.20 972.50 Z" fill="#fefefc" stroke="#432879" stroke-width="2.2" stroke-linejoin="round"/>
<path d="M182.20 945.20 L193.00 935.00 L237.00 935.00 L237.00 962.30 L226.20 972.50 L182.20 972.50 Z" fill="#fefefc"/>
<path d="M182.20 945.20 L226.20 945.20 L237.00 935.00 M226.20 945.20 L226.20 972.50" fill="none" stroke="#cfcfc6" stroke-width="0.9"/>
<path d="M86.00 1013.10 L96.80 1002.90 L179.40 1002.90 L179.40 1030.40 L168.60 1040.60 L86.00 1040.60 Z" fill="#fefefc" stroke="#432879" stroke-width="2.2" stroke-linejoin="round"/>
<path d="M86.00 1013.10 L96.80 1002.90 L179.40 1002.90 L179.40 1030.40 L168.60 1040.60 L86.00 1040.60 Z" fill="#fefefc"/>
<path d="M86.00 1013.10 L168.60 1013.10 L179.40 1002.90 M168.60 1013.10 L168.60 1040.60" fill="none" stroke="#cfcfc6" stroke-width="0.9"/>
<path d="M182.20 1013.10 L193.00 1002.90 L275.90 1002.90 L275.90 1030.40 L265.10 1040.60 L182.20 1040.60 Z" fill="#fefefc" stroke="#432879" stroke-width="2.2" stroke-linejoin="round"/>
<path d="M182.20 1013.10 L193.00 1002.90 L275.90 1002.90 L275.90 1030.40 L265.10 1040.60 L182.20 1040.60 Z" fill="#fefefc"/>
<path d="M182.20 1013.10 L265.10 1013.10 L275.90 1002.90 M265.10 1013.10 L265.10 1040.60" fill="none" stroke="#cfcfc6" stroke-width="0.9"/>
<path d="M713.6 522.10 L726.6 533.80 L713.6 545.50 Z" fill="#fefefe"/>
<path d="M713.6 592.10 L726.6 603.80 L713.6 615.50 Z" fill="#fefefe"/>
<path d="M713.6 662.10 L726.6 673.80 L713.6 685.50 Z" fill="#fefefe"/>
<path d="M713.6 732.10 L726.6 743.80 L713.6 755.50 Z" fill="#fefefe"/>
<path d="M713.6 802.10 L726.6 813.80 L713.6 825.50 Z" fill="#fefefe"/>
<path d="M713.6 872.30 L726.6 884.00 L713.6 895.70 Z" fill="#fefefe"/>
<path d="M713.6 942.50 L726.6 954.20 L713.6 965.90 Z" fill="#fefefe"/>
<path d="M713.6 1012.30 L726.6 1024.00 L713.6 1035.70 Z" fill="#fefefe"/>
<path d="M1311.30 538.47 A10.10 10.10 0 1 1 1318.30 538.47 L1318.30 559.10 L1311.30 559.10 Z" fill="#573594" stroke="#3e2575" stroke-width="4.20" stroke-linejoin="round"/>
<path d="M1311.30 538.47 A10.10 10.10 0 1 1 1318.30 538.47 L1318.30 559.10 L1311.30 559.10 Z" fill="#573594" stroke="#e0d2fa" stroke-width="1.80" stroke-linejoin="round"/>
<circle cx="1314.80" cy="529.00" r="8.50" fill="#573594" stroke="#2c1b52" stroke-width="1.60"/>
<clipPath id="c13148_5290"><rect x="1306.10" y="520.30" width="14.24" height="17.40"/></clipPath>
<circle cx="1314.80" cy="529.00" r="7.70" fill="#fefefe" clip-path="url(#c13148_5290)"/>
<line x1="1320.94" y1="521.30" x2="1320.94" y2="536.70" stroke="#2c1b52" stroke-width="1.3"/>
<rect x="1313.45" y="549.80" width="2.70" height="7.20" fill="#2c1b52" stroke="#e0d2fa" stroke-width="1.35"/>
<path d="M1311.30 606.27 A10.10 10.10 0 1 1 1318.30 606.27 L1318.30 626.90 L1311.30 626.90 Z" fill="#573594" stroke="#3e2575" stroke-width="4.20" stroke-linejoin="round"/>
<path d="M1311.30 606.27 A10.10 10.10 0 1 1 1318.30 606.27 L1318.30 626.90 L1311.30 626.90 Z" fill="#573594" stroke="#e0d2fa" stroke-width="1.80" stroke-linejoin="round"/>
<circle cx="1314.80" cy="596.80" r="8.50" fill="#fefefe" stroke="#2c1b52" stroke-width="1.60"/>
<rect x="1313.45" y="617.60" width="2.70" height="7.20" fill="#2c1b52" stroke="#e0d2fa" stroke-width="1.35"/>
<path d="M1343.70 606.27 A10.10 10.10 0 1 1 1350.70 606.27 L1350.70 626.90 L1343.70 626.90 Z" fill="#573594" stroke="#3e2575" stroke-width="4.20" stroke-linejoin="round"/>
<path d="M1343.70 606.27 A10.10 10.10 0 1 1 1350.70 606.27 L1350.70 626.90 L1343.70 626.90 Z" fill="#573594" stroke="#e0d2fa" stroke-width="1.80" stroke-linejoin="round"/>
<circle cx="1347.20" cy="596.80" r="8.50" fill="#fefefe" stroke="#2c1b52" stroke-width="1.60"/>
<rect x="1345.85" y="617.60" width="2.70" height="7.20" fill="#2c1b52" stroke="#e0d2fa" stroke-width="1.35"/>
<path d="M1376.60 606.27 A10.10 10.10 0 1 1 1383.60 606.27 L1383.60 626.90 L1376.60 626.90 Z" fill="#573594" stroke="#3e2575" stroke-width="4.20" stroke-linejoin="round"/>
<path d="M1376.60 606.27 A10.10 10.10 0 1 1 1383.60 606.27 L1383.60 626.90 L1376.60 626.90 Z" fill="#573594" stroke="#e0d2fa" stroke-width="1.80" stroke-linejoin="round"/>
<circle cx="1380.10" cy="596.80" r="8.50" fill="#573594" stroke="#2c1b52" stroke-width="1.60"/>
<clipPath id="c13801_5968"><rect x="1371.40" y="588.10" width="5.16" height="17.40"/></clipPath>
<circle cx="1380.10" cy="596.80" r="7.70" fill="#fefefe" clip-path="url(#c13801_5968)"/>
<line x1="1377.16" y1="589.10" x2="1377.16" y2="604.50" stroke="#2c1b52" stroke-width="1.3"/>
<rect x="1378.75" y="617.60" width="2.70" height="7.20" fill="#2c1b52" stroke="#e0d2fa" stroke-width="1.35"/>
<path d="M1313.05 674.92 A12.95 12.95 0 1 1 1322.15 674.92 L1322.15 700.00 L1313.05 700.00 Z" fill="#573594" stroke="#3e2575" stroke-width="4.30" stroke-linejoin="round"/>
<path d="M1313.05 674.92 A12.95 12.95 0 1 1 1322.15 674.92 L1322.15 700.00 L1313.05 700.00 Z" fill="#573594" stroke="#e0d2fa" stroke-width="1.90" stroke-linejoin="round"/>
<circle cx="1317.60" cy="662.80" r="10.82" fill="#fefefe" stroke="#2c1b52" stroke-width="2.45"/>
<rect x="1315.80" y="688.80" width="3.60" height="9.00" fill="#2c1b52" stroke="#e0d2fa" stroke-width="1.35"/>
<path d="M1351.95 674.92 A12.95 12.95 0 1 1 1361.05 674.92 L1361.05 700.00 L1351.95 700.00 Z" fill="#573594" stroke="#3e2575" stroke-width="4.30" stroke-linejoin="round"/>
<path d="M1351.95 674.92 A12.95 12.95 0 1 1 1361.05 674.92 L1361.05 700.00 L1351.95 700.00 Z" fill="#573594" stroke="#e0d2fa" stroke-width="1.90" stroke-linejoin="round"/>
<circle cx="1356.50" cy="662.80" r="10.82" fill="#573594" stroke="#2c1b52" stroke-width="2.45"/>
<clipPath id="c13565_6628"><rect x="1345.90" y="652.20" width="10.60" height="21.20"/></clipPath>
<circle cx="1356.50" cy="662.80" r="9.60" fill="#fefefe" clip-path="url(#c13565_6628)"/>
<line x1="1357.10" y1="653.20" x2="1357.10" y2="672.40" stroke="#2c1b52" stroke-width="1.3"/>
<rect x="1354.70" y="688.80" width="3.60" height="9.00" fill="#2c1b52" stroke="#e0d2fa" stroke-width="1.35"/>
<path d="M1313.05 744.52 A12.95 12.95 0 1 1 1322.15 744.52 L1322.15 769.60 L1313.05 769.60 Z" fill="#573594" stroke="#3e2575" stroke-width="4.30" stroke-linejoin="round"/>
<path d="M1313.05 744.52 A12.95 12.95 0 1 1 1322.15 744.52 L1322.15 769.60 L1313.05 769.60 Z" fill="#573594" stroke="#e0d2fa" stroke-width="1.90" stroke-linejoin="round"/>
<circle cx="1317.60" cy="732.40" r="10.82" fill="#fefefe" stroke="#2c1b52" stroke-width="2.45"/>
<rect x="1315.80" y="758.40" width="3.60" height="9.00" fill="#2c1b52" stroke="#e0d2fa" stroke-width="1.35"/>
<path d="M1352.05 744.52 A12.95 12.95 0 1 1 1361.15 744.52 L1361.15 769.60 L1352.05 769.60 Z" fill="#573594" stroke="#3e2575" stroke-width="4.30" stroke-linejoin="round"/>
<path d="M1352.05 744.52 A12.95 12.95 0 1 1 1361.15 744.52 L1361.15 769.60 L1352.05 769.60 Z" fill="#573594" stroke="#e0d2fa" stroke-width="1.90" stroke-linejoin="round"/>
<circle cx="1356.60" cy="732.40" r="10.82" fill="#fefefe" stroke="#2c1b52" stroke-width="2.45"/>
<rect x="1354.80" y="758.40" width="3.60" height="9.00" fill="#2c1b52" stroke="#e0d2fa" stroke-width="1.35"/>
<path d="M1390.75 744.52 A12.95 12.95 0 1 1 1399.85 744.52 L1399.85 769.60 L1390.75 769.60 Z" fill="#573594" stroke="#3e2575" stroke-width="4.30" stroke-linejoin="round"/>
<path d="M1390.75 744.52 A12.95 12.95 0 1 1 1399.85 744.52 L1399.85 769.60 L1390.75 769.60 Z" fill="#573594" stroke="#e0d2fa" stroke-width="1.90" stroke-linejoin="round"/>
<circle cx="1395.30" cy="732.40" r="10.82" fill="#fefefe" stroke="#2c1b52" stroke-width="2.45"/>
<rect x="1393.50" y="758.40" width="3.60" height="9.00" fill="#2c1b52" stroke="#e0d2fa" stroke-width="1.35"/>
<path d="M1382.15 814.72 A12.95 12.95 0 1 1 1391.25 814.72 L1391.25 839.80 L1382.15 839.80 Z" fill="#573594" stroke="#3e2575" stroke-width="4.30" stroke-linejoin="round"/>
<path d="M1382.15 814.72 A12.95 12.95 0 1 1 1391.25 814.72 L1391.25 839.80 L1382.15 839.80 Z" fill="#573594" stroke="#e0d2fa" stroke-width="1.90" stroke-linejoin="round"/>
<circle cx="1386.70" cy="802.60" r="10.82" fill="#fefefe" stroke="#2c1b52" stroke-width="2.45"/>
<rect x="1384.90" y="828.60" width="3.60" height="9.00" fill="#2c1b52" stroke="#e0d2fa" stroke-width="1.35"/>
<path d="M1420.65 814.72 A12.95 12.95 0 1 1 1429.75 814.72 L1429.75 839.80 L1420.65 839.80 Z" fill="#573594" stroke="#3e2575" stroke-width="4.30" stroke-linejoin="round"/>
<path d="M1420.65 814.72 A12.95 12.95 0 1 1 1429.75 814.72 L1429.75 839.80 L1420.65 839.80 Z" fill="#573594" stroke="#e0d2fa" stroke-width="1.90" stroke-linejoin="round"/>
<circle cx="1425.20" cy="802.60" r="10.82" fill="#fefefe" stroke="#2c1b52" stroke-width="2.45"/>
<rect x="1423.40" y="828.60" width="3.60" height="9.00" fill="#2c1b52" stroke="#e0d2fa" stroke-width="1.35"/>
<path d="M1382.15 955.02 A12.95 12.95 0 1 1 1391.25 955.02 L1391.25 980.10 L1382.15 980.10 Z" fill="#573594" stroke="#3e2575" stroke-width="4.30" stroke-linejoin="round"/>
<path d="M1382.15 955.02 A12.95 12.95 0 1 1 1391.25 955.02 L1391.25 980.10 L1382.15 980.10 Z" fill="#573594" stroke="#e0d2fa" stroke-width="1.90" stroke-linejoin="round"/>
<circle cx="1386.70" cy="942.90" r="10.82" fill="#fefefe" stroke="#2c1b52" stroke-width="2.45"/>
<rect x="1384.90" y="968.90" width="3.60" height="9.00" fill="#2c1b52" stroke="#e0d2fa" stroke-width="1.35"/>
<path d="M1304.90 790.10 L1362.70 790.10 L1362.70 815.00 L1358.80 815.00 L1358.80 794.10 L1353.70 794.10 L1353.70 840.40 L1310.90 840.40 L1310.90 800.40 Z" fill="#573594" stroke="#3e2575" stroke-width="4.4" stroke-linejoin="miter"/>
<path d="M1304.90 790.10 L1362.70 790.10 L1362.70 815.00 L1358.80 815.00 L1358.80 794.10 L1353.70 794.10 L1353.70 840.40 L1310.90 840.40 L1310.90 800.40 Z" fill="#573594" stroke="#e0d2fa" stroke-width="1.9" stroke-linejoin="miter"/>
<rect x="1311.9" y="823.70" width="40.8" height="15.65" fill="#2c1b52"/>
<rect x="1313.5" y="825.60" width="37.1" height="11.75" fill="#fefefe"/>
<line x1="1313.8" y1="801.10" x2="1323.6" y2="801.10" stroke="#e0d2fa" stroke-width="1.8"/>
<line x1="1313.8" y1="805.80" x2="1323.6" y2="805.80" stroke="#e0d2fa" stroke-width="1.8"/>
<line x1="1313.8" y1="810.50" x2="1323.6" y2="810.50" stroke="#e0d2fa" stroke-width="1.8"/>
<line x1="1313.8" y1="815.20" x2="1323.6" y2="815.20" stroke="#e0d2fa" stroke-width="1.8"/>
<path d="M1304.90 860.95 L1362.70 860.95 L1362.70 885.85 L1358.80 885.85 L1358.80 864.95 L1353.70 864.95 L1353.70 911.25 L1310.90 911.25 L1310.90 871.25 Z" fill="#573594" stroke="#3e2575" stroke-width="4.4" stroke-linejoin="miter"/>
<path d="M1304.90 860.95 L1362.70 860.95 L1362.70 885.85 L1358.80 885.85 L1358.80 864.95 L1353.70 864.95 L1353.70 911.25 L1310.90 911.25 L1310.90 871.25 Z" fill="#573594" stroke="#e0d2fa" stroke-width="1.9" stroke-linejoin="miter"/>
<rect x="1311.9" y="883.70" width="40.8" height="26.50" fill="#2c1b52"/>
<rect x="1313.5" y="885.60" width="37.1" height="22.60" fill="#fefefe"/>
<line x1="1313.8" y1="871.95" x2="1323.6" y2="871.95" stroke="#e0d2fa" stroke-width="1.8"/>
<line x1="1313.8" y1="876.65" x2="1323.6" y2="876.65" stroke="#e0d2fa" stroke-width="1.8"/>
<line x1="1313.8" y1="881.35" x2="1323.6" y2="881.35" stroke="#e0d2fa" stroke-width="1.8"/>
<path d="M1304.90 930.10 L1362.70 930.10 L1362.70 955.00 L1358.80 955.00 L1358.80 934.10 L1353.70 934.10 L1353.70 980.40 L1310.90 980.40 L1310.90 940.40 Z" fill="#573594" stroke="#3e2575" stroke-width="4.4" stroke-linejoin="miter"/>
<path d="M1304.90 930.10 L1362.70 930.10 L1362.70 955.00 L1358.80 955.00 L1358.80 934.10 L1353.70 934.10 L1353.70 980.40 L1310.90 980.40 L1310.90 940.40 Z" fill="#573594" stroke="#e0d2fa" stroke-width="1.9" stroke-linejoin="miter"/>
<rect x="1311.9" y="953.20" width="40.8" height="26.15" fill="#2c1b52"/>
<rect x="1313.5" y="955.10" width="37.1" height="22.25" fill="#fefefe"/>
<line x1="1313.8" y1="941.10" x2="1323.6" y2="941.10" stroke="#e0d2fa" stroke-width="1.8"/>
<line x1="1313.8" y1="945.80" x2="1323.6" y2="945.80" stroke="#e0d2fa" stroke-width="1.8"/>
<line x1="1313.8" y1="950.50" x2="1323.6" y2="950.50" stroke="#e0d2fa" stroke-width="1.8"/>
<path d="M1304.90 999.50 L1362.70 999.50 L1362.70 1024.40 L1358.80 1024.40 L1358.80 1003.50 L1353.70 1003.50 L1353.70 1049.80 L1310.90 1049.80 L1310.90 1009.80 Z" fill="#573594" stroke="#3e2575" stroke-width="4.4" stroke-linejoin="miter"/>
<path d="M1304.90 999.50 L1362.70 999.50 L1362.70 1024.40 L1358.80 1024.40 L1358.80 1003.50 L1353.70 1003.50 L1353.70 1049.80 L1310.90 1049.80 L1310.90 1009.80 Z" fill="#573594" stroke="#e0d2fa" stroke-width="1.9" stroke-linejoin="miter"/>
<rect x="1311.9" y="1008.00" width="40.8" height="40.75" fill="#2c1b52"/>
<rect x="1313.5" y="1009.90" width="37.1" height="36.85" fill="#fefefe"/>
<defs>
<radialGradient id="redg" cx="0.5" cy="0.45" r="0.6">
<stop offset="0" stop-color="#b31f30"/><stop offset="0.6" stop-color="#a9192b"/><stop offset="1" stop-color="#820e1d"/></radialGradient>
<linearGradient id="tailg" x1="0" y1="0" x2="1" y2="0">
<stop offset="0" stop-color="#a3192a"/><stop offset="1" stop-color="#6e0a16"/></linearGradient>
<linearGradient id="tailg2" x1="1" y1="0" x2="0" y2="0">
<stop offset="0" stop-color="#a3192a"/><stop offset="1" stop-color="#6e0a16"/></linearGradient>
<linearGradient id="goldc" x1="0" y1="0" x2="0" y2="1">
<stop offset="0" stop-color="#efe9c4"/><stop offset="0.55" stop-color="#d6cb93"/><stop offset="1" stop-color="#a69852"/></linearGradient>
<linearGradient id="goldw" x1="0" y1="0" x2="1" y2="0">
<stop offset="0" stop-color="#b3a55e"/><stop offset="0.6" stop-color="#ddd39e"/><stop offset="1" stop-color="#c9bc7c"/></linearGradient>
<linearGradient id="goldw2" x1="1" y1="0" x2="0" y2="0">
<stop offset="0" stop-color="#b3a55e"/><stop offset="0.6" stop-color="#ddd39e"/><stop offset="1" stop-color="#c9bc7c"/></linearGradient>
<filter id="lsh" x="-20%" y="-20%" width="140%" height="140%"><feGaussianBlur stdDeviation="1.2"/></filter>
</defs>
<path d="M587.50 1273.80 Q746.85 1253.40 906.20 1273.80 L906.20 1360.50 Q746.85 1340.00 587.50 1360.50 Z" fill="#2a1450" opacity="0.35" transform="translate(1.5,2.5)" filter="url(#lsh)"/>
<path d="M589.50 1275.80 Q746.85 1255.40 904.20 1275.80 L904.20 1358.50 Q746.85 1338.00 589.50 1358.50 Z" fill="#ffffff"/>
<path d="M576.30 1291.70 L600.00 1291.70 L600.00 1352.00 L621.30 1352.00 L621.30 1371.30 L576.30 1379.70 Z" fill="#ffffff"/>
<path d="M917.40 1291.70 L893.70 1291.70 L893.70 1352.00 L872.40 1352.00 L872.40 1371.30 L917.40 1379.70 Z" fill="#ffffff"/>
<path d="M578.70 1294.10 L600.00 1294.10 L600.00 1352.00 L618.90 1352.00 L618.90 1368.90 L578.70 1377.30 Z" fill="#5a3a1c"/>
<path d="M580.20 1295.60 L600.00 1295.60 L600.00 1352.00 L617.40 1352.00 L617.40 1367.40 L580.20 1375.80 Z" fill="url(#tailg)"/>
<path d="M592.00 1355.00 L618.20 1355.00 L618.20 1368.80 Z" fill="#3c060e"/>
<path d="M915.00 1294.10 L893.70 1294.10 L893.70 1352.00 L874.80 1352.00 L874.80 1368.90 L915.00 1377.30 Z" fill="#5a3a1c"/>
<path d="M913.50 1295.60 L893.70 1295.60 L893.70 1352.00 L876.30 1352.00 L876.30 1367.40 L913.50 1375.80 Z" fill="url(#tailg2)"/>
<path d="M901.70 1355.00 L875.50 1355.00 L875.50 1368.80 Z" fill="#3c060e"/>
<path d="M592.10 1278.40 Q746.85 1258.00 901.60 1278.40 L901.60 1355.90 Q746.85 1335.40 592.10 1355.90 Z" fill="#3a1a10"/>
<path d="M592.70 1279.00 Q746.85 1258.60 901.00 1279.00 L901.00 1355.30 Q746.85 1334.80 592.70 1355.30 Z" fill="#a2804e"/>
<path d="M594.70 1281.00 Q746.85 1260.60 899.00 1281.00 L899.00 1353.30 Q746.85 1332.80 594.70 1353.30 Z" fill="url(#redg)"/>
<path d="M648.50 1254.80 L684.00 1250.50 L687.50 1276.00 L651.00 1267.50 L646.00 1260.80 Z" fill="#ffffff" stroke="#ffffff" stroke-width="3.4" stroke-linejoin="round"/>
<path d="M648.50 1254.80 L684.00 1250.50 L687.50 1276.00 L651.00 1267.50 L646.00 1260.80 Z" fill="url(#goldw)" stroke="#8b7c3c" stroke-width="0.6" stroke-linejoin="round"/>
<path d="M845.20 1254.80 L809.70 1250.50 L806.20 1276.00 L842.70 1267.50 L847.70 1260.80 Z" fill="#ffffff" stroke="#ffffff" stroke-width="3.4" stroke-linejoin="round"/>
<path d="M845.20 1254.80 L809.70 1250.50 L806.20 1276.00 L842.70 1267.50 L847.70 1260.80 Z" fill="url(#goldw2)" stroke="#8b7c3c" stroke-width="0.6" stroke-linejoin="round"/>
<path d="M684 1266 Q700 1262 716 1262.5 L714 1266.5 Q700 1266 686 1270 Z" fill="#2b1a10" opacity="0.75"/>
<path d="M809.7 1266 Q793.7 1262 777.7 1262.5 L779.7 1266.5 Q793.7 1266 807.7 1270 Z" fill="#2b1a10" opacity="0.75"/>
<path d="M680.5 1249.5 Q746.85 1228 813.2 1249.5 L811 1267.5 Q746.85 1255 682.7 1267.5 Z" fill="#ffffff" stroke="#ffffff" stroke-width="3.2" stroke-linejoin="round"/>
<path d="M680.5 1249.5 Q746.85 1228 813.2 1249.5 L811 1267.5 Q746.85 1255 682.7 1267.5 Z" fill="url(#goldc)" stroke="#7d6f34" stroke-width="0.7"/>
<path id="qpath" d="M686 1259.2 Q746.85 1251.5 808 1259.8" fill="none"/>
<text font-family="Liberation Serif, serif" font-weight="bold" font-size="13.6" fill="#2a2212" letter-spacing="0"><textPath href="#qpath" startOffset="4" textLength="113" lengthAdjust="spacingAndGlyphs">QUALITY SINCE 1906</textPath></text>
<text font-family="Liberation Serif, serif" font-weight="bold" font-size="88.5" fill="#f7df8c" stroke="#4a1210" stroke-width="2.0" paint-order="stroke" stroke-linejoin="round"><tspan x="598.71" y="1346.99" rotate="-3.50" textLength="33.06" lengthAdjust="spacingAndGlyphs">P</tspan><tspan x="628.77" y="1340.93" rotate="-2.50" textLength="51.80" lengthAdjust="spacingAndGlyphs">O</tspan><tspan x="673.40" y="1336.52" rotate="-1.50" textLength="56.02" lengthAdjust="spacingAndGlyphs">M</tspan><tspan x="729.60" y="1333.74" rotate="-0.50" textLength="32.30" lengthAdjust="spacingAndGlyphs">P</tspan><tspan x="761.88" y="1333.97" rotate="0.50" textLength="32.20" lengthAdjust="spacingAndGlyphs">E</tspan><tspan x="792.38" y="1336.25" rotate="1.50" textLength="18.75" lengthAdjust="spacingAndGlyphs">I</tspan><tspan x="810.34" y="1338.69" rotate="2.50" textLength="50.90" lengthAdjust="spacingAndGlyphs">A</tspan><tspan x="847.64" y="1340.10" rotate="3.50" textLength="45.64" lengthAdjust="spacingAndGlyphs">N</tspan></text>
</svg></body></html>
